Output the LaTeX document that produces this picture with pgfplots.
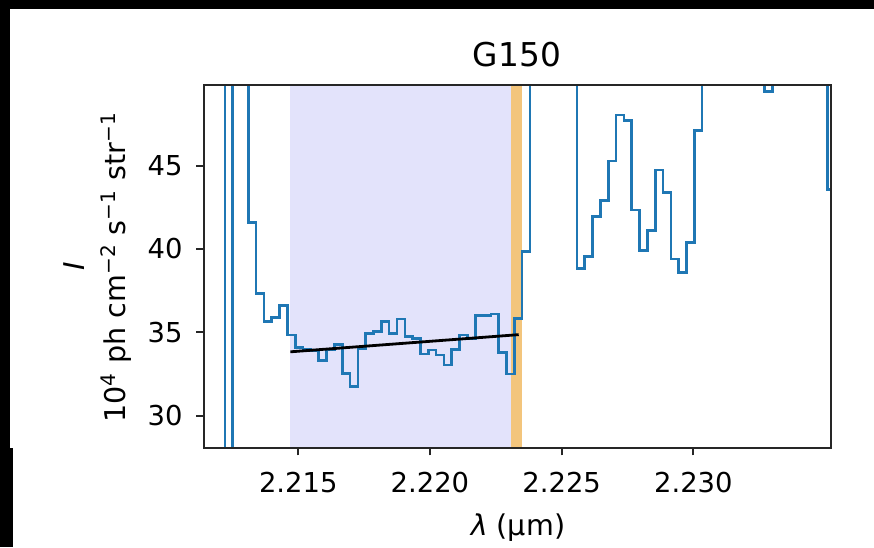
\documentclass[border=0pt]{standalone}
\usepackage{fontspec}
\setmainfont{DejaVu Sans}
\usepackage{pgfplots}
\pgfplotsset{compat=1.18}
\definecolor{mplblue}{HTML}{1F77B4}
\definecolor{spanblue}{RGB}{227,227,251}
\definecolor{spanorange}{RGB}{243,197,124}
\begin{document}
\begin{tikzpicture}
\fill[black] (-102.25pt,223.75pt) rectangle (334.75pt,-49.75pt);
\fill[white] (-97.25pt,219.25pt) rectangle (334.75pt,-0.4pt);
\fill[white] (-95.9pt,-0.4pt) rectangle (334.75pt,-49.75pt);
\begin{axis}[
 at={(0pt,0pt)}, anchor=south west,
 scale only axis, width=313.25pt, height=181.25pt,
 xmin=2.21144, xmax=2.235225, ymin=28.09, ymax=49.836,
 axis on top,
 axis line style={line width=1pt, color=black!85},
 xtick={2.215,2.220,2.225,2.230},
 xticklabels={2.215,2.220,2.225,2.230},
 ytick={30,35,40,45},
 tick align=outside, tick pos=left,
 major tick length=4pt,
 every tick/.style={black!85, line width=1pt},
 /pgf/number format/assume math mode=true,
 ticklabel style={font=\fontsize{13.7}{16}\selectfont, inner sep=0pt},
 xticklabel style={anchor=north, yshift=-8pt},
 yticklabel style={anchor=east, xshift=-6.8pt},
 clip=true,
]
% shaded fitting window
\addplot[fill=spanblue, draw=none] coordinates {(2.214686,20) (2.223065,20) (2.223065,60) (2.214686,60)} -- cycle;
% line window
\addplot[fill=spanorange, draw=none] coordinates {(2.223065,20) (2.223483,20) (2.223483,60) (2.223065,60)} -- cycle;
% spectrum
\addplot[const plot, mplblue, line width=1.3pt] coordinates {
(2.211321,60)
(2.212212,20)
(2.212509,60)
(2.213103,41.60)
(2.213400,37.34)
(2.213697,35.64)
(2.213994,35.88)
(2.214291,36.60)
(2.214588,34.84)
(2.214885,34.10)
(2.215183,34.00)
(2.215480,33.90)
(2.215777,33.30)
(2.216074,33.98)
(2.216371,34.28)
(2.216668,32.54)
(2.216965,31.74)
(2.217262,34.04)
(2.217559,34.94)
(2.217856,35.04)
(2.218153,35.64)
(2.218450,34.94)
(2.218748,35.80)
(2.219045,34.74)
(2.219342,34.64)
(2.219639,33.70)
(2.219936,33.94)
(2.220233,33.64)
(2.220530,33.04)
(2.220827,33.98)
(2.221124,34.84)
(2.221421,34.64)
(2.221718,36.00)
(2.222015,36.00)
(2.222312,36.10)
(2.222610,33.78)
(2.222907,32.50)
(2.223204,35.84)
(2.223501,39.84)
(2.223798,60)
(2.225580,38.84)
(2.225877,39.54)
(2.226175,41.94)
(2.226472,42.90)
(2.226769,45.28)
(2.227066,48.04)
(2.227363,47.70)
(2.227660,42.34)
(2.227957,39.90)
(2.228254,41.10)
(2.228551,44.74)
(2.228848,43.40)
(2.229145,39.40)
(2.229442,38.60)
(2.229740,40.40)
(2.230037,47.10)
(2.230334,60)
(2.232710,49.44)
(2.233007,60)
(2.235087,43.58)
(2.235384,43.58)
};
% linear continuum fit
\addplot[black, line width=1.4pt] coordinates {(2.214700,33.83) (2.223369,34.86)};
\end{axis}
\node[anchor=base, font=\fontsize{16.4}{19}\selectfont] at (156.25pt,190.5pt) {G150};
\node[anchor=base, font=\fontsize{14.3}{17}\selectfont] at (156.75pt,-44pt) {\textit{λ} (µm)};
\node[rotate=90, anchor=base, font=\fontsize{14.3}{17}\selectfont] at (-59.75pt,90.5pt) {\textit{I}};
\node[rotate=90, anchor=base, font=\fontsize{14.3}{17}\selectfont] at (-39.25pt,90pt) {10\textsuperscript{4} ph cm\textsuperscript{−2} s\textsuperscript{−1} str\textsuperscript{−1}};
\pgfresetboundingbox
\path[use as bounding box] (-102.25pt,223.75pt) rectangle (334.75pt,-49.75pt);
\end{tikzpicture}
\end{document}
